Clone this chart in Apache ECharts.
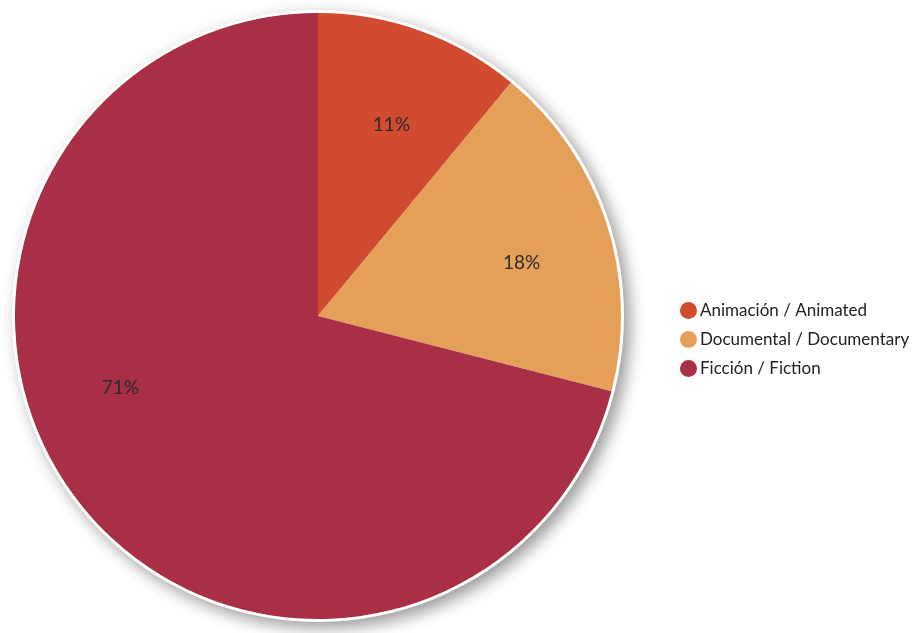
<!DOCTYPE html>
<html>
<head>
<meta charset="utf-8">
<script src="https://cdn.jsdelivr.net/npm/echarts@6/dist/echarts.min.js"></script>
<style>
  html, body { margin: 0; padding: 0; background: #ffffff; }
  #chart { width: 914px; height: 633px; }
</style>
</head>
<body>
<div id="chart"></div>
<script>
// Film production by genre (share of titles)
const categories = ['Animación / Animated', 'Documental / Documentary', 'Ficción / Fiction'];
const shares = [11, 18, 71];
const colors = ['#D04B2F', '#E49F59', '#A82F45'];

const chart = echarts.init(document.getElementById('chart'));

const center = [318, 316];
const pieData = categories.map((name, i) => ({
  name: name,
  value: shares[i],
  itemStyle: { color: colors[i] }
}));

// small nudges for the percentage labels
const labelShift = [
  { dx: 2, dy: 7 },
  { dx: 3, dy: 12 },
  { dx: -31, dy: -57 }
];

chart.setOption({
  animation: false,
  legend: {
    orient: 'vertical',
    left: 675,
    top: 297,
    icon: 'circle',
    itemWidth: 17,
    itemHeight: 17,
    itemGap: 12,
    textStyle: { fontFamily: 'Lato', fontSize: 17, color: '#222222', padding: [0, 0, 0, -2] },
    data: categories.map((name, i) => ({ name: name, itemStyle: { color: colors[i] } }))
  },
  series: [
    {
      // white rim with soft drop shadow behind the slices
      type: 'pie',
      silent: true,
      center: center,
      radius: 306,
      startAngle: 90,
      label: { show: false },
      labelLine: { show: false },
      itemStyle: {
        color: '#ffffff',
        shadowColor: 'rgba(0,0,0,0.4)',
        shadowBlur: 16,
        shadowOffsetX: 6,
        shadowOffsetY: 6
      },
      data: [{ name: '', value: 1 }],
      z: 1
    },
    {
      type: 'pie',
      center: center,
      radius: 303,
      startAngle: 90,
      clockwise: true,
      label: { show: false },
      labelLine: { show: false },
      emphasis: { disabled: true },
      data: pieData,
      z: 2
    },
    {
      // percentage labels placed part-way out along each slice
      type: 'pie',
      silent: true,
      center: center,
      radius: 416,
      startAngle: 90,
      clockwise: true,
      itemStyle: { color: 'rgba(0,0,0,0)' },
      label: {
        show: true,
        position: 'inside',
        formatter: p => p.value + '%',
        fontFamily: 'Lato',
        fontSize: 19,
        color: '#2a2a2a'
      },
      labelLine: { show: false },
      labelLayout: params => labelShift[params.dataIndex],
      data: pieData.map(d => ({ name: d.name, value: d.value })),
      z: 3
    }
  ]
});
</script>
</body>
</html>
